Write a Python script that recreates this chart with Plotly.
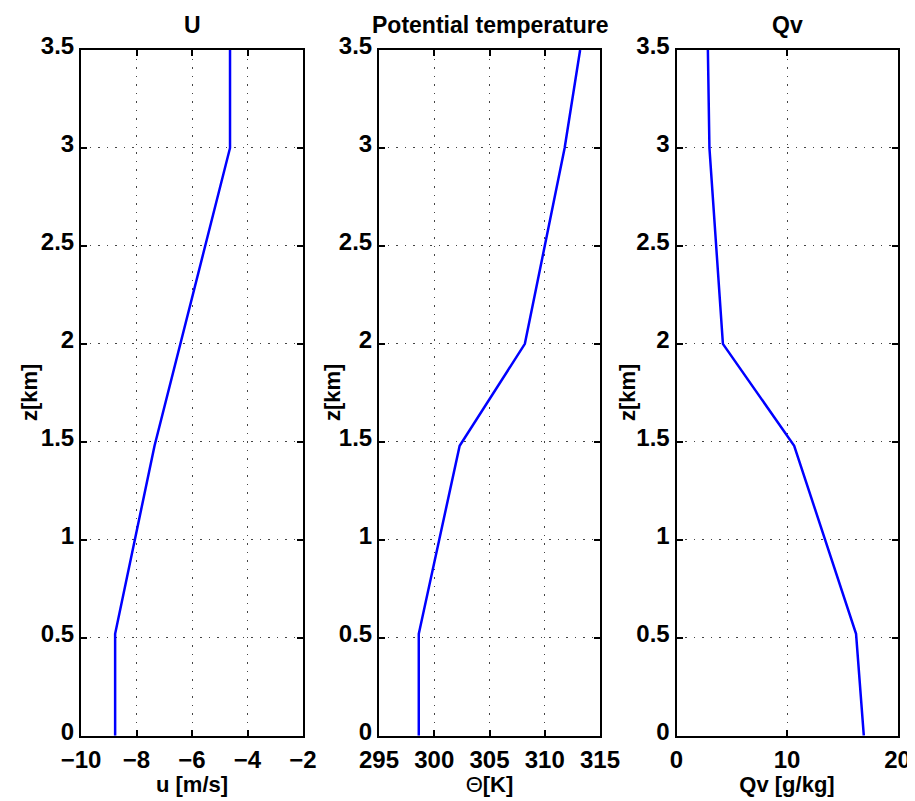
import plotly.graph_objects as go
from plotly.subplots import make_subplots

# Data
z_u = [0.0, 0.52, 1.48, 3.0, 3.5]
u_vals = [-8.77, -8.77, -7.35, -4.63, -4.63]

z_th = [0.0, 0.52, 1.48, 2.0, 3.0, 3.5]
theta_vals = [298.6, 298.6, 302.3, 308.2, 311.8, 313.2]

z_qv = [0.0, 0.52, 1.48, 2.0, 3.0, 3.5]
qv_vals = [16.95, 16.25, 10.65, 4.2, 2.98, 2.84]

titles = ["U", "Potential temperature", "Qv"]
xlabels = ["u [m/s]", "Θ<b>[K]</b>", "Qv [g/kg]"]
xranges = [[-10, -2], [295, 315], [0, 20]]
xticks = [[-10, -8, -6, -4, -2], [295, 300, 305, 310, 315], [0, 10, 20]]
yticks = [0, 0.5, 1, 1.5, 2, 2.5, 3, 3.5]
yticktext = ["0", "0.5", "1", "1.5", "2", "2.5", "3", "3.5"]

# page body has an 8px default margin; build the figure to fit inside it
OFF = 8
W, H = 915 - OFF + 4, 801 - OFF
fig = make_subplots(rows=1, cols=3)

series = [(u_vals, z_u), (theta_vals, z_th), (qv_vals, z_qv)]
for i, (xv, zv) in enumerate(series):
    fig.add_trace(go.Scatter(x=xv, y=zv, mode="lines",
                             line=dict(color="#0000FF", width=2.5),
                             showlegend=False), row=1, col=i + 1)

left_px = [81, 379, 676.5]
right_px = [303, 600, 897.5]
top_px, bot_px = 50, 735.7
ytitle_x = [30, 333, 628]
font_fam = "Liberation Sans, Arial, Helvetica, sans-serif"


def px_x(p):
    return (p - OFF) / W


def px_y(p):
    return 1 - (p - OFF) / H


for i in range(3):
    xa = "xaxis" if i == 0 else f"xaxis{i+1}"
    ya = "yaxis" if i == 0 else f"yaxis{i+1}"
    fig.layout[xa].update(
        domain=[px_x(left_px[i]), px_x(right_px[i])],
        range=xranges[i], tickvals=xticks[i],
        showline=True, linecolor="black", linewidth=2, mirror="ticks",
        ticks="inside", ticklen=6, tickwidth=1.5, tickcolor="black",
        showgrid=True, gridcolor="#444444", griddash="1.5px,7px", gridwidth=1.2,
        zeroline=False, automargin=False, ticklabelstandoff=1,
        tickfont=dict(family=font_fam, size=24, color="black", weight="bold"),
        title=dict(text=xlabels[i], standoff=0,
                   font=dict(family=font_fam, size=22, color="black",
                             weight="normal" if i == 1 else "bold")),
    )
    fig.layout[ya].update(
        domain=[px_y(bot_px), px_y(top_px)],
        range=[0, 3.5], tickvals=yticks, ticktext=yticktext,
        showline=True, linecolor="black", linewidth=2, mirror="ticks",
        ticks="inside", ticklen=6, tickwidth=1.5, tickcolor="black",
        showgrid=True, gridcolor="#444444", griddash="1.5px,7px", gridwidth=1.2,
        zeroline=False, automargin=False, ticklabelshift=-4,
        tickfont=dict(family=font_fam, size=24, color="black", weight="bold"),
    )
    fig.add_annotation(text="<b>" + titles[i] + "</b>", xref="paper", yref="paper",
                       x=px_x((left_px[i] + right_px[i]) / 2), y=px_y(25),
                       xanchor="center", yanchor="middle", showarrow=False,
                       font=dict(family=font_fam, size=23, color="black"))
    fig.add_annotation(text="<b>z[km]</b>", xref="paper", yref="paper",
                       x=px_x(ytitle_x[i]), y=px_y(393), textangle=-90,
                       xanchor="center", yanchor="middle", showarrow=False,
                       font=dict(family=font_fam, size=22, color="black"))

fig.update_layout(width=W, height=H, margin=dict(l=0, r=0, t=0, b=0),
                  plot_bgcolor="white", paper_bgcolor="white")
fig.write_html("out.html")
